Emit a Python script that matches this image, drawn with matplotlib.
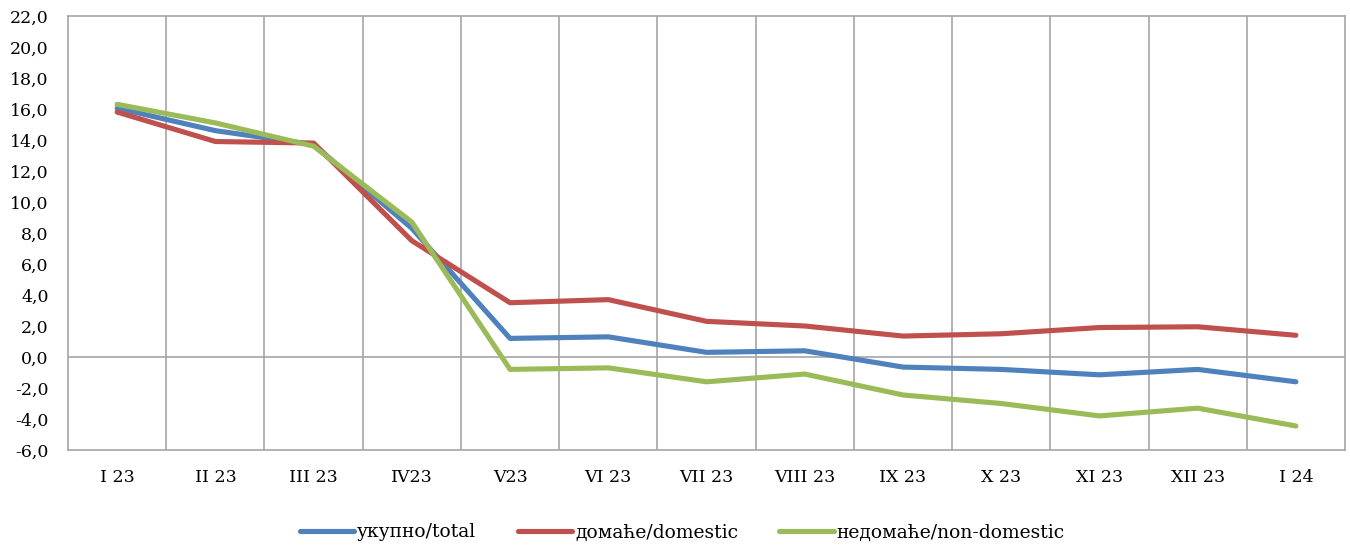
import matplotlib
matplotlib.use("Agg")
import matplotlib.pyplot as plt
import numpy as np

categories = ["I 23", "II 23", "III 23", "IV23", "V23", "VI 23", "VII 23",
              "VIII 23", "IX 23", "X 23", "XI 23", "XII 23", "I 24"]
total = [16.05, 14.6, 13.7, 8.3, 1.2, 1.3, 0.3, 0.4, -0.65, -0.8, -1.15, -0.8, -1.6]
domestic = [15.8, 13.9, 13.8, 7.5, 3.5, 3.7, 2.3, 2.0, 1.35, 1.5, 1.9, 1.95, 1.4]
nondomestic = [16.3, 15.1, 13.6, 8.7, -0.8, -0.7, -1.6, -1.1, -2.45, -3.0, -3.8, -3.3, -4.45]
labels = ["укупно/total", "домаће/domestic", "недомаће/non-domestic"]
y_ticks = [-6, -4, -2, 0, 2, 4, 6, 8, 10, 12, 14, 16, 18, 20, 22]

plt.rcParams['font.family'] = ['DejaVu Serif']

fig = plt.figure(figsize=(13.5, 5.5), dpi=100)
ax = fig.add_axes([0.0504, 0.1818, 0.9459, 0.7892])

x = np.arange(len(categories))
colors = ["#4F81BD", "#C0504D", "#9BBB59"]
for s, c, l in zip([total, domestic, nondomestic], colors, labels):
    ax.plot(x, s, color=c, lw=3.7, label=l, solid_capstyle='round', solid_joinstyle='round')

ax.set_xlim(-0.5, len(categories) - 0.5)
ax.set_ylim(-6, 22)
ax.set_yticks(y_ticks)
ax.set_yticklabels([f"{v:.1f}".replace(".", ",") for v in y_ticks], fontsize=12.5)
ax.set_xticks(x)
ax.set_xticklabels(categories, fontsize=12.5)
ax.set_xticks(np.arange(len(categories) - 1) + 0.5, minor=True)
ax.grid(True, which='minor', axis='x', color='#A6A6A6', lw=1.2)
ax.axhline(0, color='#A6A6A6', lw=1.2, zorder=1)
ax.tick_params(axis='both', which='both', length=0)
ax.tick_params(axis='x', pad=14)
ax.tick_params(axis='y', pad=14)
for sp in ax.spines.values():
    sp.set_color('#A6A6A6')
    sp.set_linewidth(1.2)

leg = ax.legend(loc='center', bbox_to_anchor=(0.481, -0.19), ncol=3, frameon=False,
                fontsize=13.5, handlelength=2.9, handletextpad=0.16, columnspacing=2.2)

fig.savefig("out.png", dpi=100)
